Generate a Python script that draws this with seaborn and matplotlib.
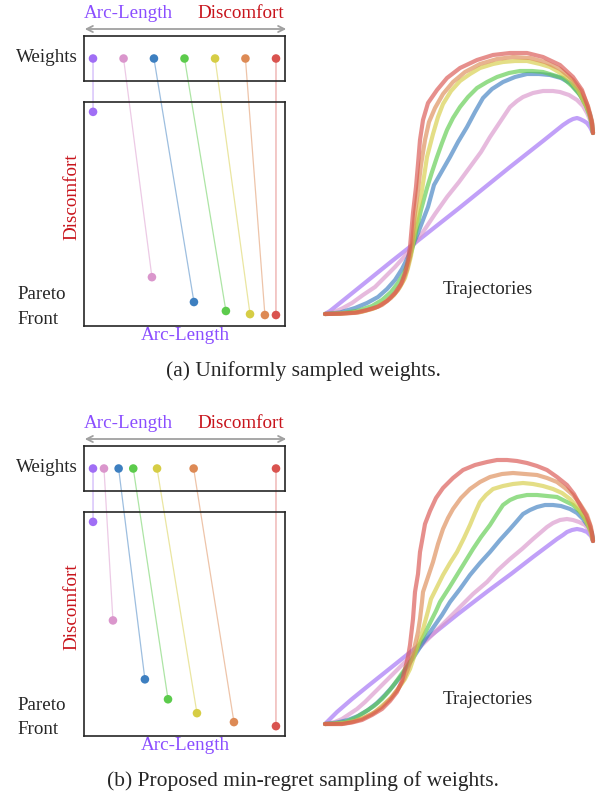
import numpy as np
import pandas as pd
import matplotlib
matplotlib.use("Agg")
import matplotlib.pyplot as plt
import seaborn as sns
from matplotlib.patches import ConnectionPatch, FancyArrowPatch

# ---------------- data ----------------
names = ["purple", "pink", "blue", "green", "yellow", "orange", "red"]
colors = ["#a06ef5", "#da96cc", "#3d7fc0", "#5ccb4c", "#d6cd45", "#dd8a55", "#d9534f"]

# weights (0 = arc-length, 1 = discomfort)
weights_a = [0.0, 0.167, 0.333, 0.5, 0.667, 0.833, 1.0]
weights_b = [0.0, 0.06, 0.14, 0.22, 0.35, 0.55, 1.0]

# pareto front (normalised arc-length, discomfort)
arc_a = [0.045, 0.338, 0.547, 0.706, 0.826, 0.900, 0.955]
disc_a = [0.956, 0.218, 0.107, 0.067, 0.053, 0.049, 0.049]
arc_b = [0.045, 0.144, 0.303, 0.418, 0.562, 0.746, 0.955]
disc_b = [0.956, 0.516, 0.253, 0.164, 0.102, 0.062, 0.044]

# trajectories, panel (a)
ta_purple_x = [0, 5, 10, 67, 133, 185, 218, 238, 244, 248, 252, 255, 259, 262, 265, 268]
ta_purple_y = [0, 3, 7, 53, 105, 147, 173, 189, 193, 195, 196, 195, 193, 191, 187, 181]
ta_pink_x = [0, 10, 18, 27, 38, 50, 60, 70, 79, 87, 98, 110, 122, 134, 145, 156, 165, 175,
             185, 192, 198, 208, 218, 228, 235, 244, 252, 258, 262, 266, 268]
ta_pink_y = [0, 2.3, 6, 11, 19, 27, 37, 47, 57, 67, 82, 100, 117, 132, 147, 162, 177, 192,
             207, 213, 217, 221, 223, 223, 222, 219, 214, 208, 201, 192, 181]
ta_blue_x = [0, 15, 30, 42, 53, 62, 70, 77, 83, 93, 103, 109, 117, 125, 133, 142, 150, 158,
             167, 178, 190, 202, 214, 225, 236, 245, 253, 260, 265, 267, 268]
ta_blue_y = [0, 1.5, 6, 11, 17, 25, 34, 45, 57, 81, 107, 129, 143, 157, 172, 187, 202, 216,
             225, 232, 237, 240, 240, 239, 236, 231, 222, 211, 200, 191, 181]
ta_green_x = [0, 15, 33, 47, 57, 66, 73, 79, 83, 87, 90, 96, 102, 107, 112, 117, 122, 128,
              135, 143, 152, 162, 172, 184, 195, 207, 218, 228, 238, 247, 255, 261, 265, 268]
ta_green_y = [0, 0.5, 3.3, 8, 14, 22, 31, 41, 51, 64, 77, 104, 126, 142, 157, 171, 184, 196,
              207, 217, 226, 232, 237, 241, 243, 243, 242, 239, 236, 228, 219, 208, 197, 181]
ta_yellow_x = [0, 18, 37, 50, 60, 69, 75, 80, 83, 86, 88, 93, 97, 102, 108, 113, 118, 126,
               135, 145, 155, 168, 178, 190, 202, 215, 225, 237, 245, 253, 258, 264, 267, 268]
ta_yellow_y = [0, 0.5, 2.3, 6, 12, 19, 27, 36, 46, 58, 71, 101, 124, 157, 180, 197, 210, 223,
               233, 240, 246, 250, 252, 253, 253, 250, 247, 240, 234, 224, 214, 202, 191, 181]
ta_orange_x = [0, 15, 33, 47, 57, 66, 73, 78, 82, 85, 87, 90, 93, 96, 100, 104, 110, 118,
               128, 140, 155, 172, 188, 205, 220, 235, 248, 257, 263, 267, 268]
ta_orange_y = [0, 0.3, 1.3, 5, 9, 16, 24, 33, 44, 57, 71, 101, 124, 149, 174, 192, 206, 220,
               232, 242, 250, 255, 257, 256, 252, 245, 234, 222, 208, 193, 181]
ta_red_x = [0, 15, 30, 42, 53, 62, 70, 76, 80, 83, 85, 88, 91, 93, 95, 98, 103, 112, 122,
            135, 152, 168, 185, 202, 218, 235, 248, 257, 263, 267, 268]
ta_red_y = [0, 0.3, 1.3, 4, 7.3, 13, 21, 30, 41, 54, 67, 101, 127, 150, 174, 194, 211, 224,
            236, 246, 254, 259, 261, 261, 257, 249, 237, 224, 207, 191, 181]

# trajectories, panel (b)
tb_purple_x = [0, 6, 12, 27, 43, 73, 103, 133, 163, 186, 208, 220, 232, 238, 242, 247, 252,
               257, 262, 266, 268]
tb_purple_y = [0, 6, 12, 25, 38, 62, 86, 110, 133, 150, 167, 176, 185, 189, 192, 194, 195,
               194, 192, 188, 183]
tb_pink_x = [0, 10, 17, 23, 32, 40, 48, 57, 67, 77, 87, 97, 107, 117, 125, 133, 148, 162,
             173, 185, 197, 208, 215, 222, 228, 235, 242, 248, 254, 260, 264, 267, 268]
tb_pink_y = [0, 2, 5, 9, 15, 22, 30, 39, 49, 59, 69, 79, 89, 99, 107, 115, 130, 142,
             154, 165, 175, 185, 191, 197, 201, 204, 205, 204, 202, 199, 194, 189, 183]
tb_blue_x = [0, 12, 23, 33, 43, 52, 60, 68, 77, 90, 103, 117, 125, 135, 145, 155, 165, 175,
             185, 192, 198, 205, 212, 220, 228, 236, 245, 252, 258, 263, 267, 268]
tb_blue_y = [0, 1.5, 4, 8, 14, 21, 29, 38, 49, 69, 89, 109, 122, 135, 149, 161, 172, 184,
             195, 203, 210, 214, 217, 219, 219, 218, 215, 211, 205, 198, 191, 183]
tb_green_x = [0, 10, 20, 30, 40, 49, 57, 65, 73, 80, 87, 92, 97, 102, 107, 111, 115, 124,
              132, 140, 148, 156, 165, 172, 178, 185, 192, 202, 212, 222, 232, 240, 248,
              256, 262, 266, 268]
tb_green_y = [0, 0.5, 2, 6, 12, 18, 25, 34, 45, 55, 65, 75, 85, 95, 105, 113, 122, 136,
              149, 162, 175, 187, 199, 210, 219, 224, 227, 229, 229, 228, 227, 223, 219,
              211, 202, 193, 184]
tb_yellow_x = [0, 10, 20, 30, 40, 50, 58, 66, 73, 80, 85, 89, 93, 97, 100, 103, 106, 112,
               118, 125, 132, 139, 145, 150, 155, 161, 168, 178, 188, 198, 208, 218, 228,
               237, 245, 253, 260, 265, 268]
tb_yellow_y = [0, 0.3, 1, 3, 7, 12, 19, 26, 35, 45, 55, 67, 79, 91, 102, 113, 125, 137,
               149, 161, 172, 186, 199, 211, 222, 229, 235, 238, 240, 241, 240, 238, 235,
               231, 225, 216, 205, 194, 183]
tb_orange_x = [0, 17, 27, 37, 47, 57, 66, 73, 79, 83, 87, 90, 93, 95, 97, 98, 103, 108, 113,
               118, 123, 128, 136, 145, 155, 165, 177, 188, 200, 212, 222, 232, 240, 248,
               255, 262, 266, 268]
tb_orange_y = [0, 0, 2, 5, 10, 17, 26, 35, 45, 55, 67, 79, 92, 105, 122, 132, 147, 162, 180,
               195, 206, 215, 226, 235, 242, 247, 250, 251, 250, 249, 246, 242, 236, 229,
               220, 209, 197, 183]
tb_red_x = [0, 17, 27, 37, 47, 57, 65, 72, 77, 80, 83, 85, 88, 90, 93, 95, 97, 100, 105, 111,
            118, 128, 138, 150, 162, 172, 182, 192, 202, 212, 222, 232, 242, 249, 255, 261,
            265, 267, 268]
tb_red_y = [0, 0, 1.5, 4, 9, 15, 23, 32, 43, 55, 67, 79, 105, 132, 150, 172, 183, 200, 213,
            226, 236, 246, 254, 259, 262, 264, 264, 263, 261, 258, 254, 247, 239, 230, 219,
            209, 199, 191, 183]

traj_a = [(ta_purple_x, ta_purple_y), (ta_pink_x, ta_pink_y), (ta_blue_x, ta_blue_y),
          (ta_green_x, ta_green_y), (ta_yellow_x, ta_yellow_y), (ta_orange_x, ta_orange_y),
          (ta_red_x, ta_red_y)]
traj_b = [(tb_purple_x, tb_purple_y), (tb_pink_x, tb_pink_y), (tb_blue_x, tb_blue_y),
          (tb_green_x, tb_green_y), (tb_yellow_x, tb_yellow_y), (tb_orange_x, tb_orange_y),
          (tb_red_x, tb_red_y)]

caption_a = "(a) Uniformly sampled weights."
caption_b = "(b) Proposed min-regret sampling of weights."

# ---------------- style ----------------
sns.set_style("white")
plt.rcParams["font.family"] = ["Liberation Serif", "DejaVu Serif"]

W, H = 605, 795
fig = plt.figure(figsize=(W / 100, H / 100), dpi=100)

PURPLE_TXT = "#8a4dff"
RED_TXT = "#c8141c"
LBL = 13.7
CAP = 15.5


def fx(px):
    return px / W


def fy(py):
    return 1 - py / H


def add_ax(x0, y0, x1, y1):
    return fig.add_axes([fx(x0), fy(y1), fx(x1) - fx(x0), (y1 - y0) / H])


def style_box(ax):
    ax.set_facecolor("none")
    ax.set_xticks([])
    ax.set_yticks([])
    for s in ax.spines.values():
        s.set_color("#262626")
        s.set_linewidth(1.2)
    ax.set_xlabel("")
    ax.set_ylabel("")


def panel(off, weights, arc, disc, trajs, caption, cap_x):
    # header
    fig.text(fx(84), fy(13.5 + off), "Arc-Length", color=PURPLE_TXT, fontsize=LBL,
             ha="left", va="center")
    fig.text(fx(284), fy(13.5 + off), "Discomfort", color=RED_TXT, fontsize=LBL,
             ha="right", va="center")
    fig.add_artist(FancyArrowPatch(
        (fx(82), fy(29 + off)), (fx(289), fy(29 + off)), transform=fig.transFigure,
        arrowstyle="<->", mutation_scale=11, color="#a0a0a0", lw=1.3))

    # weights box
    axw = add_ax(84, 36 + off, 285, 81 + off)
    dfw = pd.DataFrame({"w": weights, "y": [0.5] * len(weights), "name": names})
    sns.scatterplot(data=dfw, x="w", y="y", hue="name", palette=colors, legend=False,
                    s=38, edgecolor="none", ax=axw, zorder=5)
    axw.set_xlim(-0.0492, 1.0492)
    axw.set_ylim(0, 1)
    style_box(axw)
    fig.text(fx(78), fy(58 + off), "Weights", fontsize=LBL, ha="right", va="center")

    # pareto box
    axp = add_ax(84, 102 + off, 285, 326 + off)
    dfp = pd.DataFrame({"arc": arc, "disc": disc, "name": names})
    sns.scatterplot(data=dfp, x="arc", y="disc", hue="name", palette=colors, legend=False,
                    s=38, edgecolor="none", ax=axp, zorder=5)
    axp.set_xlim(0, 1)
    axp.set_ylim(0, 1)
    style_box(axp)
    fig.text(fx(185), fy(335 + off), "Arc-Length", color=PURPLE_TXT, fontsize=LBL,
             ha="center", va="center")
    fig.text(fx(72), fy(197 + off), "Discomfort", color=RED_TXT, fontsize=LBL,
             ha="center", va="center", rotation=90)
    fig.text(fx(17), fy(295 + off), "Pareto", fontsize=LBL, ha="left", va="center")
    fig.text(fx(17), fy(319 + off), "Front", fontsize=LBL, ha="left", va="center")

    # connections
    for w, a, d, c in zip(weights, arc, disc, colors):
        cp = ConnectionPatch(xyA=(w, 0.5), coordsA=axw.transData,
                             xyB=(a, d), coordsB=axp.transData,
                             color=c, lw=0.9, alpha=0.5, zorder=-1)
        fig.add_artist(cp)

    # trajectories
    axt = add_ax(315, 30 + off, 605, 324 + off)
    for (xs, ys), c in zip(trajs, colors):
        sns.lineplot(x=xs, y=ys, sort=False, estimator=None, color=c, lw=3.0,
                     alpha=0.65, ax=axt, solid_capstyle="round", solid_joinstyle="round")
    axt.set_xlim(-10, 280)
    axt.set_ylim(-10, 284)
    axt.set_axis_off()
    fig.text(fx(488), fy(290 + off), "Trajectories", fontsize=LBL, ha="center", va="center")

    fig.text(fx(cap_x), fy(371 + off), caption, fontsize=CAP, ha="left", va="center")


panel(0, weights_a, arc_a, disc_a, traj_a, caption_a, 166)
panel(410, weights_b, arc_b, disc_b, traj_b, caption_b, 107)

fig.savefig("out.png", dpi=100)
